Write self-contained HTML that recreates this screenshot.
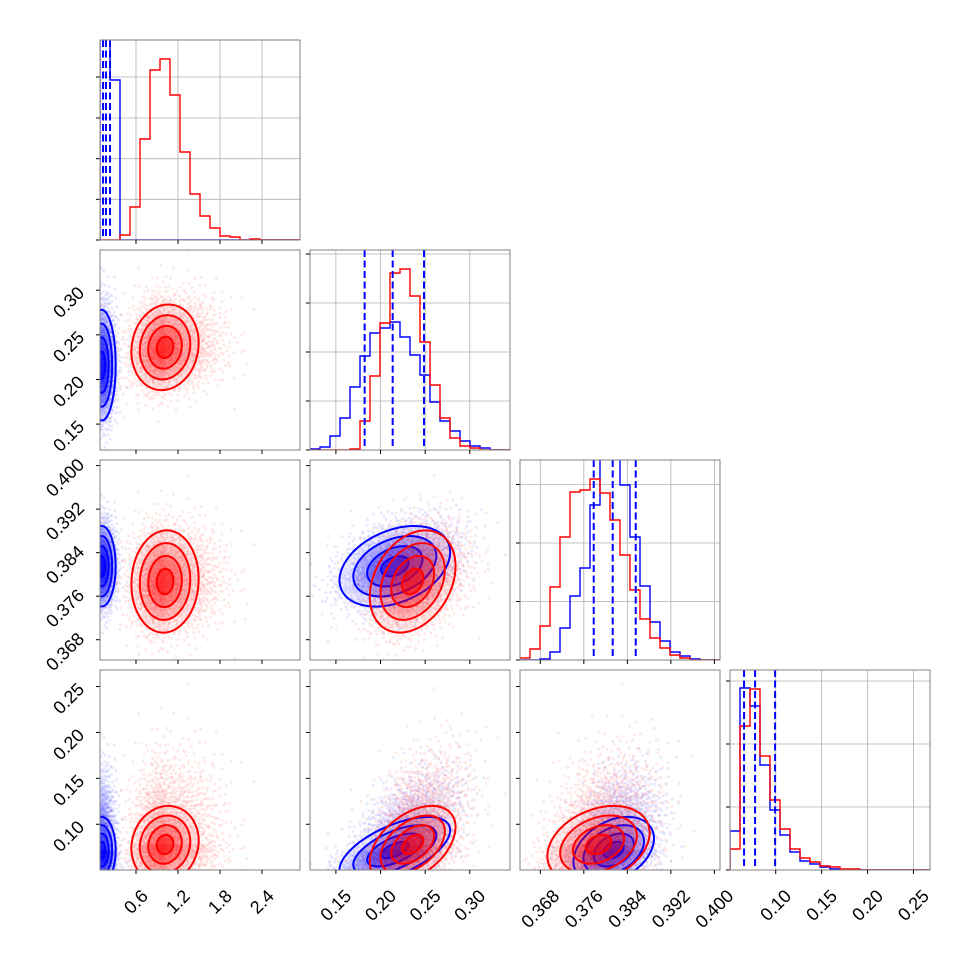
<!DOCTYPE html>
<html><head><meta charset="utf-8">
<style>
html,body{margin:0;padding:0;background:#fff;}
svg{display:block;font-family:"Liberation Sans","DejaVu Sans",sans-serif;}
</style></head>
<body>
<svg id="chart" width="970" height="970" viewBox="0 0 970 970" xmlns="http://www.w3.org/2000/svg"></svg>
<script>
// ---- data ----
const xMin = [0.086, 0.121, 0.36427, 0.0502];
const xMax = [2.943, 0.345, 0.40103, 0.268];
const tickVals0 = [0.6, 1.2, 1.8, 2.4];
const tickVals1 = [0.15, 0.20, 0.25, 0.30];
const tickVals2 = [0.368, 0.376, 0.384, 0.392, 0.400];
const tickVals3 = [0.10, 0.15, 0.20, 0.25];
const tickLabels0 = ["0.6", "1.2", "1.8", "2.4"];
const tickLabels1 = ["0.15", "0.20", "0.25", "0.30"];
const tickLabels2 = ["0.368", "0.376", "0.384", "0.392", "0.400"];
const tickLabels3 = ["0.10", "0.15", "0.20", "0.25"];
// histogram counts (20 bins spanning each axis range)
const histRed0 = [0,0,5,33,101,170,181,145,88,46,24,12,4,3,0,1,0,0,0,0];
const histBlue0 = [260,160,0,0,0,0,0,0,0,0,0,0,0,0,0,0,0,0,0,0];
const histRed1 = [0,0,0,0,1,29,74,127,177,181,154,108,65,32,12,4,2,0,0,0];
const histBlue1 = [1,3,14,32,63,94,117,122,128,113,95,75,48,29,19,9,4,2,0,0];
const histRed2 = [2,11,34,73,123,168,170,181,167,140,105,70,41,22,12,5,2,0,0,0];
const histBlue2 = [0,0,1,8,32,64,92,155,215,215,175,123,74,38,19,8,4,1,0,0];
const histRed3 = [21,144,181,114,70,41,21,12,8,4,3,1,1,0,0,0,0,0,0,0];
const histBlue3 = [39,182,164,105,60,35,18,9,6,3,1,0.3,0.3,0,0,0,0,0,0,0];
const histYMax = 200;
const histYTicks0 = [0,40.7,81.3,122,163];
const histYTicks1 = [0,49,98,147,196];
const histYTicks2 = [0,58.5,117,175.5];
const histYTicks3 = [0,63,126,189];
// quantile lines (blue)
const quant0 = [0.129, 0.171, 0.229];
const quant1 = [0.1822, 0.2136, 0.2487];
const quant2 = [0.37782, 0.38131, 0.38554];
const quant3 = [0.0655, 0.0775, 0.0993];
// 2D sample distribution summaries
const meanRed = [1.015, 0.236, 0.3787, 0.078];
const sdRed = [0.24, 0.024, 0.0047, 0.021];
const skewRed = [1.6, 1.2, 1.1, 2.2];
const meanBlue = [0.11, 0.216, 0.3815, 0.072];
const sdBlue = [0.1, 0.031, 0.0037, 0.018];
const skewBlue = [1.0, 1.1, 1.1, 2.2];
const rhoRed = [[1,0.1,0.05,0.1],[0.1,1,0.3,0.45],[0.05,0.3,1,0.3],[0.1,0.45,0.3,1]];
const rhoBlue = [[1,0,0,0],[0,1,0.35,0.6],[0,0.35,1,0.35],[0,0.6,0.35,1]];
const contourLevels = [2, 1.5, 1, 0.5];
const contourAlpha = [0.05, 0.15, 0.25, 0.5];

const tickVals=[tickVals0,tickVals1,tickVals2,tickVals3];
const tickLabels=[tickLabels0,tickLabels1,tickLabels2,tickLabels3];
const histRed=[histRed0,histRed1,histRed2,histRed3];
const histBlue=[histBlue0,histBlue1,histBlue2,histBlue3];
const histYTicks=[histYTicks0,histYTicks1,histYTicks2,histYTicks3];
const quants=[quant0,quant1,quant2,quant3];

const NS="http://www.w3.org/2000/svg";
const svg=document.getElementById('chart');
function el(tag,attrs,parent){const e=document.createElementNS(NS,tag);for(const k in attrs)e.setAttribute(k,attrs[k]);(parent||svg).appendChild(e);return e;}
const S=200, GAP=10, L0=100, T0=40;
function px(c){return L0+c*(S+GAP);}
function py(r){return T0+r*(S+GAP);}
function sx(c,v){return px(c)+(v-xMin[c])/(xMax[c]-xMin[c])*S;}
function sy(r,v){return py(r)+S-(v-xMin[r])/(xMax[r]-xMin[r])*S;}
function hy(r,v){return py(r)+S-v/histYMax*S;}
function halton(i,b){let f=1,res=0;while(i>0){f/=b;res+=f*(i%b);i=Math.floor(i/b);}return res;}

const defs=el('defs',{});
for(let r=0;r<4;r++)for(let c=0;c<=r;c++){
  const cp=el('clipPath',{id:'clip'+r+c},defs);
  el('rect',{x:px(c),y:py(r),width:S,height:S},cp);
}

function drawCloud(g,r,c,mean,sd,skew,rho,color,seed){
  const rr=rho[r][c];
  const N=2200;
  for(let i=1;i<=N;i++){
    const u1=Math.max(1e-6,halton(i+seed,2)), u2=halton(i+seed,3);
    const rad=Math.sqrt(-2*Math.log(u1));
    const z1=rad*Math.cos(2*Math.PI*u2), zt=rad*Math.sin(2*Math.PI*u2);
    const z2=rr*z1+Math.sqrt(1-rr*rr)*zt;
    const xv=mean[c]+sd[c]*z1*(z1>0?skew[c]:1);
    const yv=mean[r]+sd[r]*z2*(z2>0?skew[r]:1);
    const d=el('circle',{cx:sx(c,xv).toFixed(1),cy:sy(r,yv).toFixed(1),r:1.5,fill:color,'fill-opacity':0.09},g);
    
    
  }
}
function ellipseParams(r,c,mean,sd,rho){
  const a=sd[c]/(xMax[c]-xMin[c])*S, b=sd[r]/(xMax[r]-xMin[r])*S;
  const rr=rho[r][c];
  const cxx=a*a, cyy=b*b, cxy=-rr*a*b;
  const tr=(cxx+cyy)/2, det=Math.sqrt(((cxx-cyy)/2)**2+cxy*cxy);
  const l1=tr+det, l2=tr-det;
  const ang=Math.atan2(l1-cxx,cxy)*180/Math.PI;
  const ang2=(Math.abs(cxy)<1e-9)?(cxx>=cyy?0:90):ang;
  return {cx:sx(c,mean[c]),cy:sy(r,mean[r]),r1:Math.sqrt(l1),r2:Math.sqrt(Math.max(l2,0)),ang:ang2};
}
function drawBands(g,r,c,mean,sd,rho,color,name){
  const p=ellipseParams(r,c,mean,sd,rho);
  contourLevels.forEach((k,i)=>{
    const e=el('ellipse',{cx:p.cx,cy:p.cy,rx:p.r1*k,ry:p.r2*k,transform:`rotate(${p.ang} ${p.cx} ${p.cy})`,fill:color,'fill-opacity':contourAlpha[i],stroke:'none'},g);
    
    
  });
}
function drawLines(g,r,c,mean,sd,rho,color,name){
  const p=ellipseParams(r,c,mean,sd,rho);
  contourLevels.forEach((k,i)=>{
    const e=el('ellipse',{cx:p.cx,cy:p.cy,rx:p.r1*k,ry:p.r2*k,transform:`rotate(${p.ang} ${p.cx} ${p.cy})`,fill:'none',stroke:color,'stroke-width':2},g);
    
    
  });
}
function stepPath(c,r,counts){
  const w=S/counts.length;
  let d=`M${px(c)},${hy(r,0)}`;
  counts.forEach((v,i)=>{const y=hy(r,Math.min(v,histYMax*1.2));d+=` L${px(c)+i*w},${y} L${px(c)+(i+1)*w},${y}`;});
  d+=` L${px(c)+S},${hy(r,0)}`;
  return d;
}

for(let r=0;r<4;r++)for(let c=0;c<=r;c++){
  const panel=el('g',{});
  
  
  const x0=px(c),y0=py(r);
  const inner=el('g',{'clip-path':`url(#clip${r}${c})`},panel);
  if(r===c){
    tickVals[c].forEach(v=>{const gx=sx(c,v);const gl=el('line',{x1:gx,x2:gx,y1:y0,y2:y0+S,stroke:'#b0b0b0','stroke-width':0.8},inner);});
    histYTicks[c].forEach(v=>{const gy=hy(r,v);const gl=el('line',{x1:x0,x2:x0+S,y1:gy,y2:gy,stroke:'#b0b0b0','stroke-width':0.8},inner);});
    const hb=el('path',{d:stepPath(c,r,histBlue[c]),fill:'none',stroke:'#0000ff','stroke-width':1.4},inner);
    
    
    const hr=el('path',{d:stepPath(c,r,histRed[c]),fill:'none',stroke:'#ff0000','stroke-width':1.4},inner);
    
    
    quants[c].forEach(q=>{const qx=sx(c,q);const ql=el('line',{x1:qx,x2:qx,y1:y0,y2:y0+S,stroke:'#0000ff','stroke-width':2,'stroke-dasharray':'7,3.5'},inner);});
    histYTicks[c].forEach(v=>{const ty=hy(r,v);const t=el('line',{x1:x0-4,x2:x0,y1:ty,y2:ty,stroke:'#000','stroke-width':1},panel);});
  } else {
    drawCloud(inner,r,c,meanBlue,sdBlue,skewBlue,rhoBlue,'#0000ff',17);
    drawCloud(inner,r,c,meanRed,sdRed,skewRed,rhoRed,'#ff0000',911);
    drawBands(inner,r,c,meanBlue,sdBlue,rhoBlue,'#0000ff','blue');
    drawLines(inner,r,c,meanBlue,sdBlue,rhoBlue,'#0000ff','blue');
    drawBands(inner,r,c,meanRed,sdRed,rhoRed,'#ff0000','red');
    drawLines(inner,r,c,meanRed,sdRed,rhoRed,'#ff0000','red');
    tickVals[r].forEach(v=>{const ty=sy(r,v);const t=el('line',{x1:x0-4,x2:x0,y1:ty,y2:ty,stroke:'#000','stroke-width':1},panel);});
  }
  const fr=el('rect',{x:x0,y:y0,width:S,height:S,fill:'none',stroke:'#808080','stroke-width':1},panel);
  
  
  tickVals[c].forEach(v=>{const tx=sx(c,v);const t=el('line',{x1:tx,x2:tx,y1:y0+S,y2:y0+S+4,stroke:'#000','stroke-width':1},panel);});
}
// x labels, bottom row
for(let c=0;c<4;c++){
  tickVals[c].forEach((v,i)=>{
    const t=el('text',{'font-size':18,'text-anchor':'middle','dominant-baseline':'central',fill:'#000'});
    t.textContent=tickLabels[c][i];
    
    
    const L=t.getComputedTextLength()||tickLabels[c][i].length*9.5;
    const h=0.707*(L+14);
    const cx=sx(c,v), cy=888+h/2;
    t.setAttribute('x',cx);t.setAttribute('y',cy);
    t.setAttribute('transform',`rotate(-45 ${cx} ${cy})`);
  });
}
// y labels, left column rows 1..3
for(let r=1;r<4;r++){
  tickVals[r].forEach((v,i)=>{
    const t=el('text',{'font-size':18,'text-anchor':'middle','dominant-baseline':'central',fill:'#000'});
    t.textContent=tickLabels[r][i];
    
    
    const L=t.getComputedTextLength()||tickLabels[r][i].length*9.5;
    const w=0.707*(L+14);
    const cx=86-w/2, cy=sy(r,v)+12;
    t.setAttribute('x',cx);t.setAttribute('y',cy);
    t.setAttribute('transform',`rotate(-45 ${cx} ${cy})`);
  });
}
</script>
</body></html>
